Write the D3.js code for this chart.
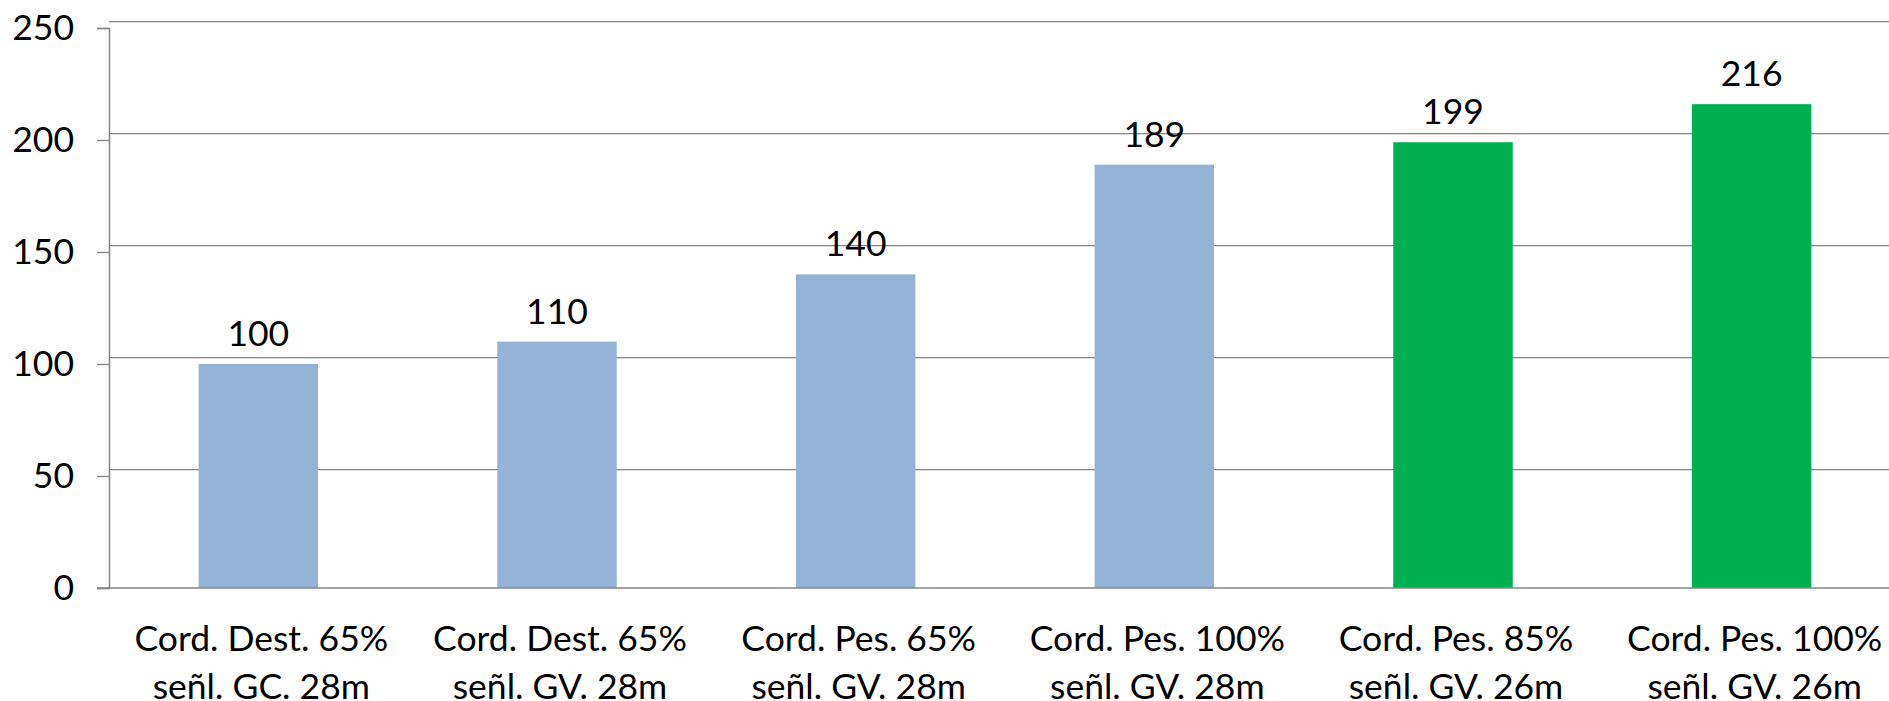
<!DOCTYPE html>
<html>
<head>
<meta charset="utf-8">
<script src="https://cdn.jsdelivr.net/npm/d3@7"></script>
<style>
  html, body { margin: 0; padding: 0; background: #fff; }
  svg { display: block; }
  text { font-family: Lato, "Open Sans", sans-serif; fill: #000; }
</style>
</head>
<body>
<svg id="chart" width="1889" height="701"></svg>
<script>
const categories = [
  "Cord. Dest. 65%|señl. GC. 28m",
  "Cord. Dest. 65%|señl. GV. 28m",
  "Cord. Pes. 65%|señl. GV. 28m",
  "Cord. Pes. 100%|señl. GV. 28m",
  "Cord. Pes. 85%|señl. GV. 26m",
  "Cord. Pes. 100%|señl. GV. 26m"
];
const values = [100, 110, 140, 189, 199, 216];
const barColors = ["#95B3D7", "#95B3D7", "#95B3D7", "#95B3D7", "#00B050", "#00B050"];
const yTicks = [0, 50, 100, 150, 200, 250];

const svg = d3.select("#chart");
const axisX = 109, plotRight = 1901, baseY = 588, topY = 28;
const gridColor = "#868686";
const fontSize = 35.5;

const x = d3.scaleBand().domain(categories).range([axisX, plotRight])
  .paddingInner(0.6).paddingOuter(0.3);
const y = d3.scaleLinear().domain([0, 250]).range([baseY, topY]);

// gridlines (slightly offset upward as in the original)
svg.append("g").selectAll("line").data(yTicks.filter(d => d > 0)).join("line")
  .attr("x1", axisX).attr("x2", 1889)
  .attr("y1", d => y(d) - 6.3).attr("y2", d => y(d) - 6.3)
  .attr("stroke", gridColor).attr("stroke-width", 1.3);

// bars
svg.append("g").selectAll("rect").data(values).join("rect")
  .attr("x", (d, i) => x(categories[i]))
  .attr("width", x.bandwidth())
  .attr("y", d => y(d))
  .attr("height", d => baseY - y(d))
  .attr("fill", (d, i) => barColors[i]);

// y axis
const yAxis = d3.axisLeft(y).tickValues(yTicks).tickSize(12).tickPadding(23);
const gy = svg.append("g").attr("transform", `translate(${axisX},0)`).call(yAxis);
gy.select(".domain").attr("stroke", gridColor).attr("stroke-width", 1.5);
gy.selectAll(".tick line").attr("stroke", gridColor).attr("stroke-width", 1.3);
gy.selectAll(".tick text").attr("font-size", fontSize)
  .attr("font-family", "Lato, 'Open Sans', sans-serif").attr("fill", "#000");

// x axis baseline
svg.append("line").attr("x1", axisX - 12).attr("x2", 1889)
  .attr("y1", baseY).attr("y2", baseY)
  .attr("stroke", gridColor).attr("stroke-width", 1.5);

// value labels
svg.append("g").selectAll("text").data(values).join("text")
  .attr("x", (d, i) => x(categories[i]) + x.bandwidth() / 2)
  .attr("y", d => y(d) - 18)
  .attr("text-anchor", "middle")
  .attr("font-size", fontSize)
  .text(d => d);

// category labels
const cg = svg.append("g").selectAll("text").data(categories).join("text")
  .attr("text-anchor", "middle")
  .attr("font-size", fontSize);
cg.each(function(d) {
  const cx = x(d) + x.bandwidth() / 2 + 3;
  d.split("|").forEach((line, k) => {
    d3.select(this).append("tspan").attr("x", cx).attr("y", 651 + k * 48).text(line);
  });
});
</script>
</body>
</html>
